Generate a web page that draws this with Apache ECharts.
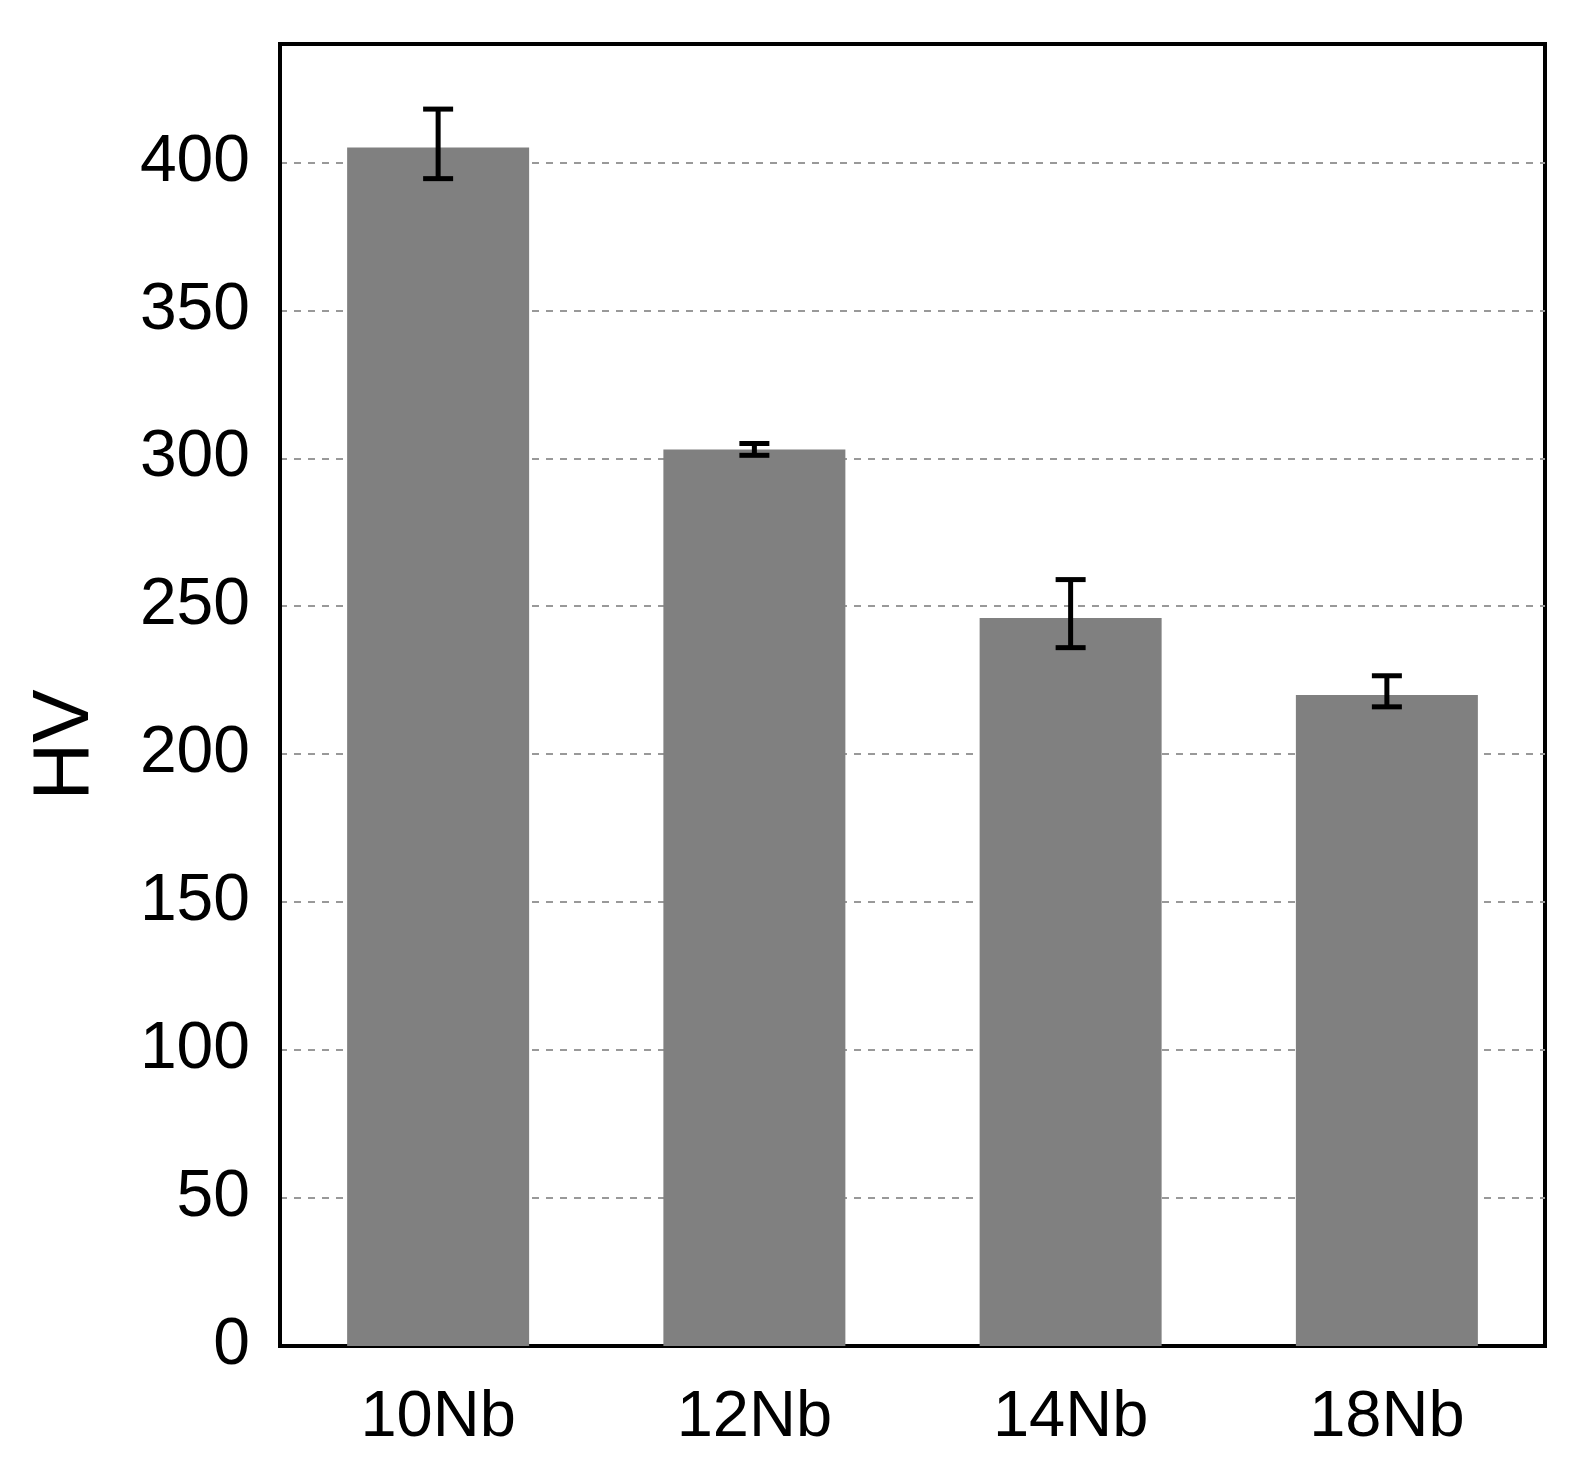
<!DOCTYPE html>
<html>
<head>
<meta charset="utf-8">
<script src="https://cdn.jsdelivr.net/npm/echarts@6/dist/echarts.min.js"></script>
<style>
  html, body { margin: 0; padding: 0; background: #fff; }
  #chart { width: 1591px; height: 1473px; }
</style>
</head>
<body>
<div id="chart"></div>
<script>
const categories = ["10Nb", "12Nb", "14Nb", "18Nb"];
const hardness = [405, 303, 246, 220];
const errLow = [394.5, 301, 236, 216];
const errHigh = [418, 305, 259, 226.5];
const yTicks = [0, 50, 100, 150, 200, 250, 300, 350, 400];

const chart = echarts.init(document.getElementById("chart"));

const errorData = categories.map((c, i) => [i, errLow[i], errHigh[i]]);

const renderError = (params, api) => {
  const x = api.value(0);
  const lo = api.coord([x, api.value(1)]);
  const hi = api.coord([x, api.value(2)]);
  const half = 15;
  const style = { stroke: "#000", lineWidth: 5 };
  return {
    type: "group",
    children: [
      { type: "line", shape: { x1: lo[0], y1: lo[1], x2: hi[0], y2: hi[1] }, style },
      { type: "line", shape: { x1: hi[0] - half, y1: hi[1], x2: hi[0] + half, y2: hi[1] }, style },
      { type: "line", shape: { x1: lo[0] - half, y1: lo[1], x2: lo[0] + half, y2: lo[1] }, style },
    ],
  };
};

chart.setOption({
  backgroundColor: "#ffffff",
  animation: false,
  textStyle: { fontFamily: "Liberation Sans" },
  grid: {
    left: 280, right: 46, top: 44, bottom: 127,
    show: true, borderColor: "#000", borderWidth: 4,
  },
  xAxis: {
    type: "category",
    data: categories,
    axisLine: { show: true, lineStyle: { color: "#000", width: 4 } },
    axisTick: { show: false },
    axisLabel: { color: "#000", fontSize: 65, margin: 40, fontFamily: "Liberation Sans" },
  },
  yAxis: {
    type: "value",
    min: 0,
    max: 440,
    interval: 50,
    axisLine: { show: true, lineStyle: { color: "#000", width: 4 } },
    axisTick: { show: false },
    axisLabel: {
      color: "#000", fontSize: 66, margin: 30, fontFamily: "Liberation Sans",
      showMaxLabel: false,
      formatter: (v) => (yTicks.includes(v) ? String(v) : ""),
    },
    splitLine: {
      show: true,
      showMaxLine: false,
      lineStyle: { color: "#999", width: 2, type: [7, 7] },
    },
  },
  graphic: [
    {
      type: "text",
      x: 66,
      y: 745,
      rotation: Math.PI / 2,
      style: {
        text: "HV",
        fill: "#000",
        font: "80px Liberation Sans",
        align: "center",
        verticalAlign: "middle",
      },
    },
  ],
  series: [
    {
      type: "bar",
      data: hardness,
      barWidth: 182,
      itemStyle: { color: "#808080" },
      z: 2,
    },
    {
      type: "custom",
      data: errorData,
      renderItem: renderError,
      encode: { x: 0, y: [1, 2] },
      z: 3,
    },
  ],
});
</script>
</body>
</html>
